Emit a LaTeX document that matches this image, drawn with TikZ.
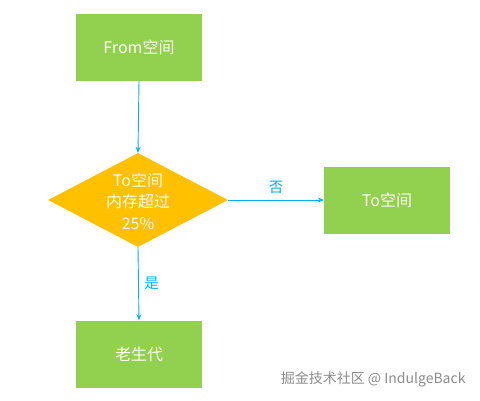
\documentclass[tikz,border=0pt]{standalone}
\usepackage{fontspec}
\setmainfont{Noto Sans CJK SC}
\usetikzlibrary{shapes.geometric,arrows.meta}
\definecolor{boxgreen}{HTML}{92D050}
\definecolor{gold}{HTML}{FFC000}
\definecolor{linec}{HTML}{00B0F0}
\definecolor{txt}{HTML}{FCFCF0}
\begin{document}
\begin{tikzpicture}[x=1pt,y=-1pt,
  gbox/.style={fill=boxgreen,draw=none,minimum width=126pt,minimum height=67pt,inner sep=0pt,text=txt,font=\fontsize{16}{19}\selectfont},
  dia/.style={diamond,fill=gold,draw=none,minimum width=180pt,minimum height=94pt,aspect=1.9,inner sep=0pt},
  conn/.style={draw=linec,line width=0.9pt,-{Stealth[length=6pt,width=5pt]}},
  lab/.style={text=linec,font=\fontsize{14.5}{16}\selectfont}]
\useasboundingbox (0,0) rectangle (480,400);
\fill[white] (0,0) rectangle (480,400);
\node[gbox] (from) at (139,47) {From空间};
\node[dia] (dec) at (138,200) {};
\node[text=txt,font=\fontsize{16}{21.5}\selectfont,align=center] (dectext) at (138,201) {To空间\\内存超过\\25\%};
\node[gbox] (to) at (387,200) {To空间};
\node[gbox] (old) at (139,354) {老生代};
\draw[conn] (from.south) -- (dec.north);
\draw[conn] (dec.east) -- node[lab,above=3pt] (no) {否} (to.west);
\draw[conn] (dec.south) -- node[lab,right=2pt] (yes) {是} (old.north);
\node[text=gray!90,font=\fontsize{14}{16}\selectfont,anchor=east] (wm) at (469,379) {掘金技术社区 @ IndulgeBack};
\end{tikzpicture}
\end{document}
